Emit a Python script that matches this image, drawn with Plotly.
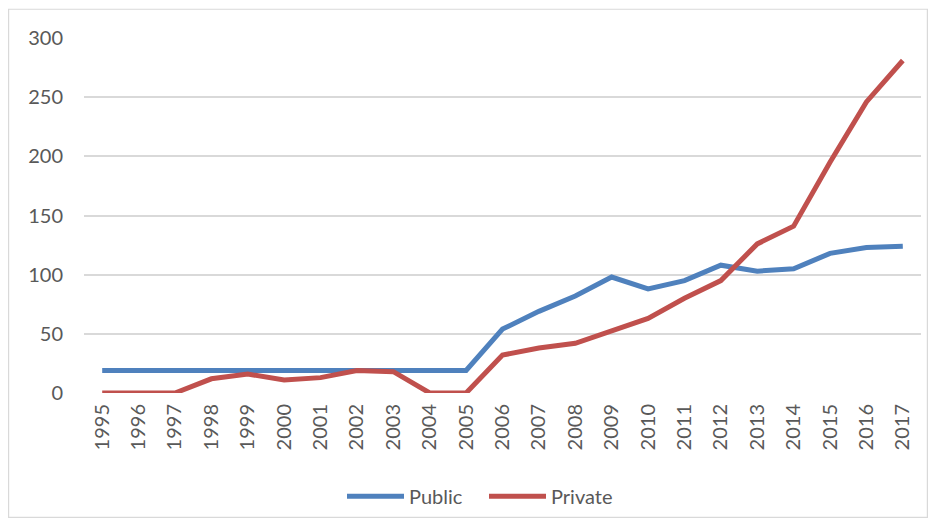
import plotly.graph_objects as go

years = [str(y) for y in range(1995, 2018)]
public = [19, 19, 19, 20, 19, 19, 19, 19, 19, 20, 19, 54, 69, 82, 98, 88, 95, 108, 103, 105, 118, 123, 124]
private = [0, 0, 0, 12, 16, 11, 13, 19, 18, 0, 0, 32, 38, 42, 52, 63, 80, 95, 126, 141, 195, 246, 281]
y_ticks = [0, 50, 100, 150, 200, 250, 300]

font_family = "Lato, Open Sans, sans-serif"
txt_color = "#595959"

fig = go.Figure()
fig.add_trace(go.Scatter(x=years, y=public, name="Public", mode="lines",
                         line=dict(color="#4F81BD", width=5)))
fig.add_trace(go.Scatter(x=years, y=private, name="Private", mode="lines",
                         line=dict(color="#C0504D", width=5)))

# page has an 8px body margin; figure is sized/positioned to compensate
W, H = 920, 514
L, R, T, B = 76, 7, 30, 126
pw, ph = W - L - R, H - T - B

def px_x(p):
    return (p - L) / pw

def px_y(p):
    return (H - B - p) / ph

fig.update_layout(
    width=W, height=H,
    margin=dict(l=L, r=R, t=T, b=B),
    paper_bgcolor="white", plot_bgcolor="white",
    font=dict(family=font_family, color=txt_color, size=20),
    showlegend=True,
    legend=dict(orientation="h", x=px_x(334), xanchor="left",
                y=px_y(492), yanchor="middle",
                font=dict(size=20, color=txt_color),
                itemwidth=57, entrywidth=70, entrywidthmode="pixels",
                tracegroupgap=0),
    xaxis=dict(type="category", range=[-0.5, 22.5], tickangle=-90,
               showgrid=False, showline=False, zeroline=False,
               tickfont=dict(size=20, color=txt_color), ticks="",
               ticklabelstandoff=6),
    yaxis=dict(range=[0, 300], tickvals=y_ticks, showgrid=True,
               gridcolor="#D9D9D9", gridwidth=1.5, zeroline=False,
               showline=False, ticks="", ticklabelstandoff=20,
               tickfont=dict(size=20, color=txt_color)),
    shapes=[dict(type="rect", xref="paper", yref="paper",
                 x0=px_x(0.6), x1=px_x(919.4), y0=px_y(513.4), y1=px_y(1),
                 line=dict(color="#D9D9D9", width=1.2), layer="below")],
)

fig.write_html("out.html")
